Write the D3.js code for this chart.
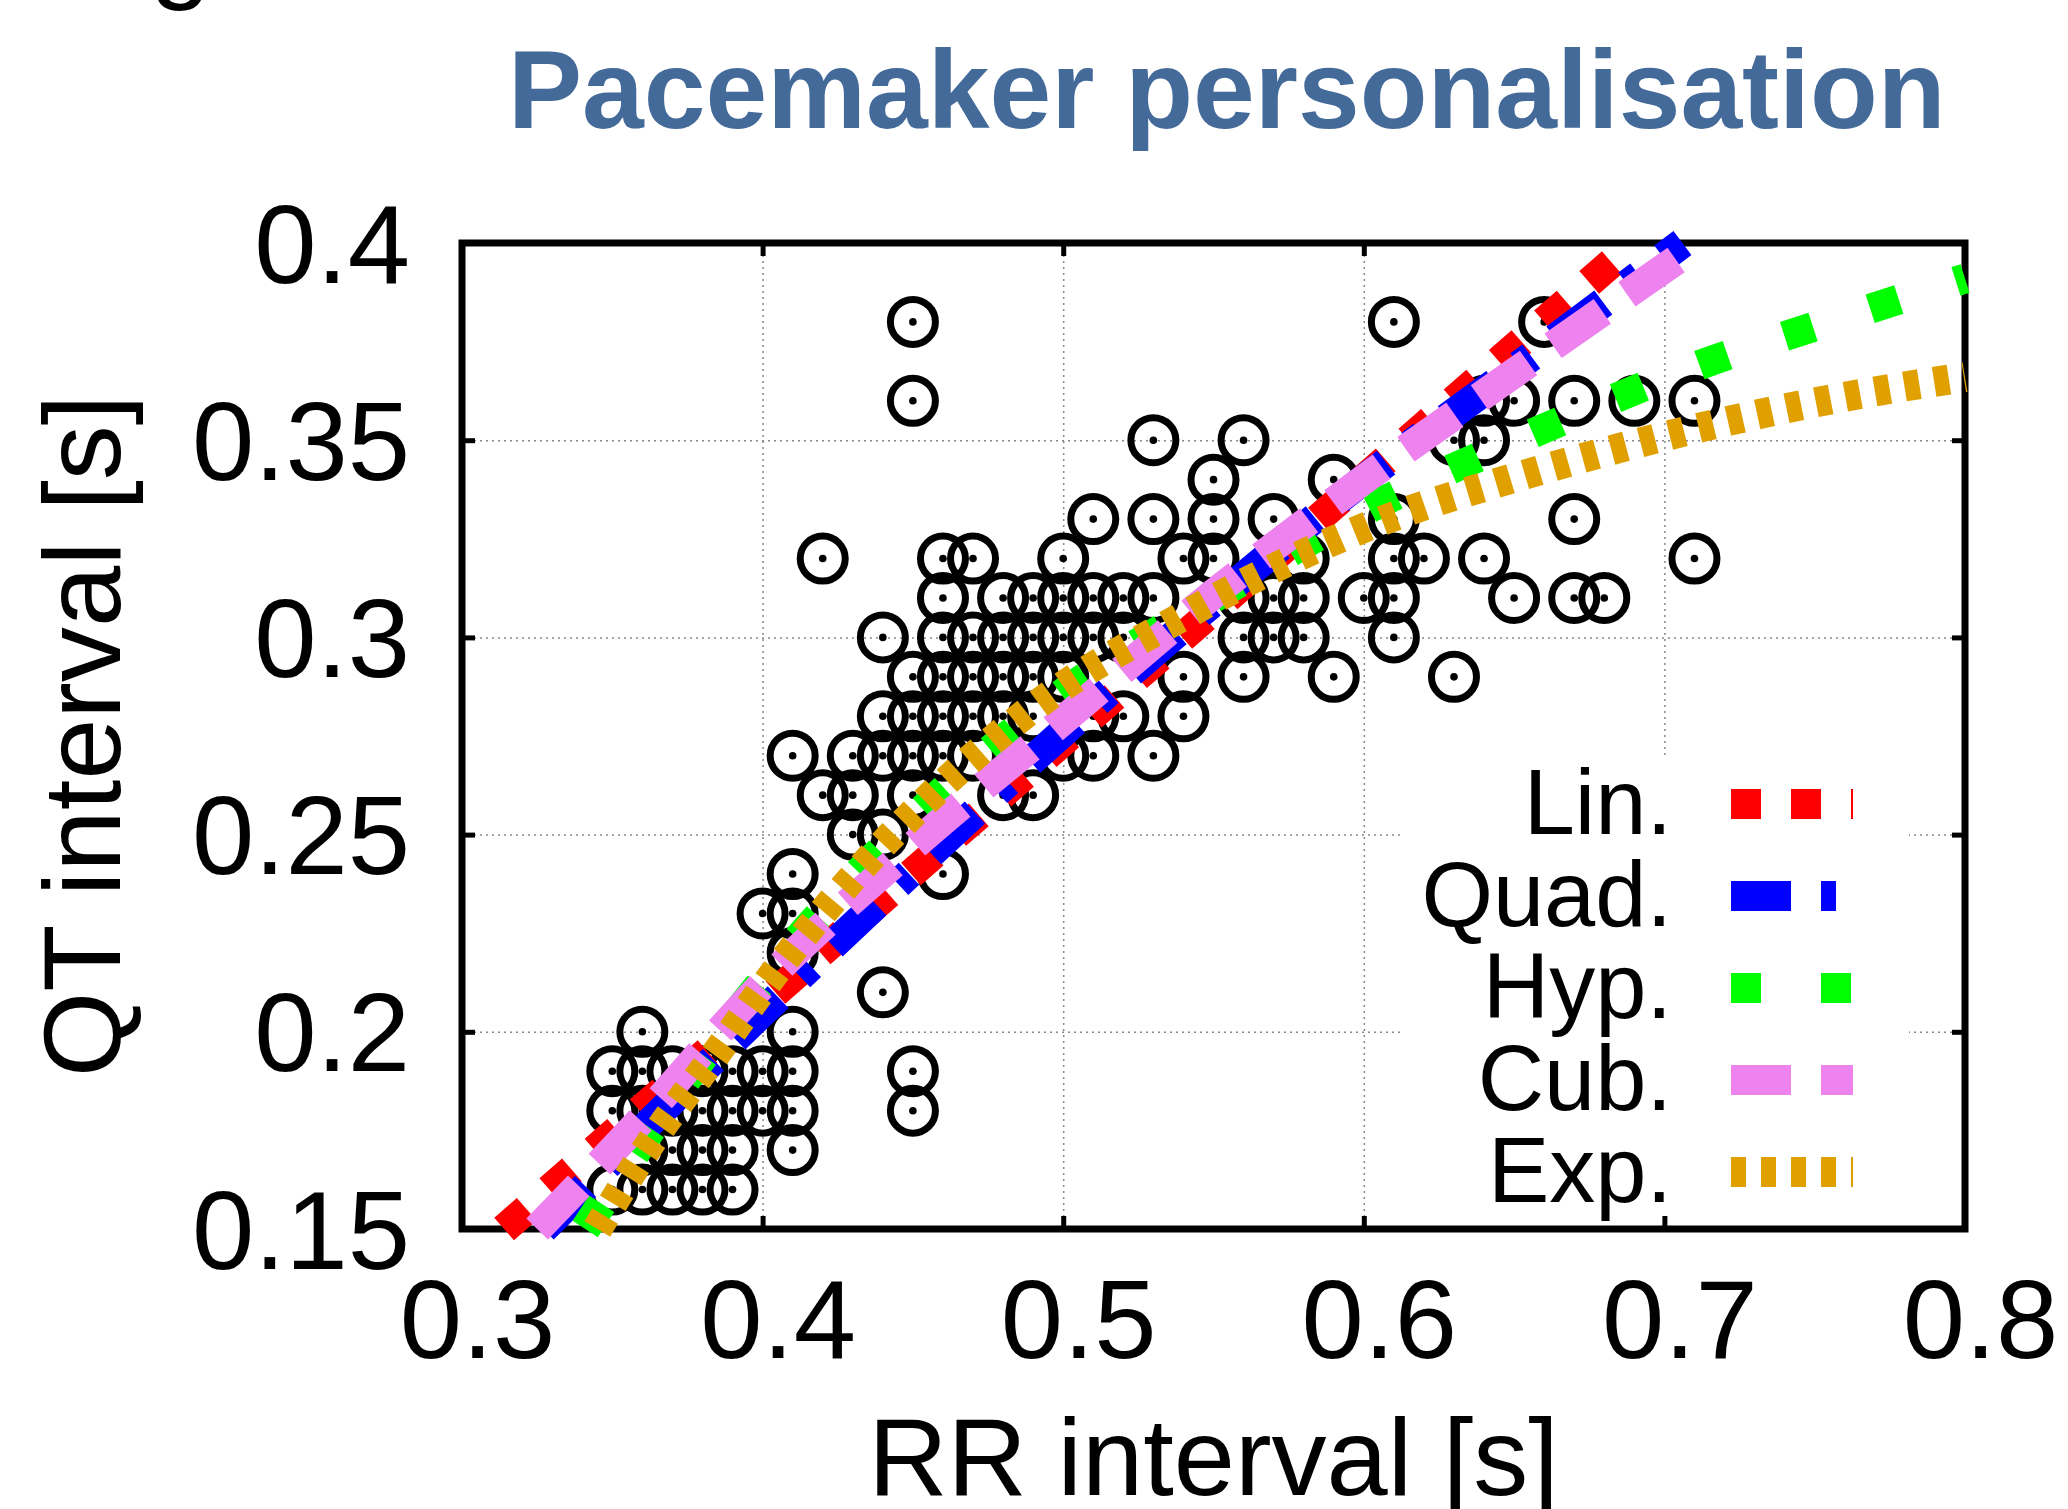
<!DOCTYPE html>
<html>
<head>
<meta charset="utf-8">
<script src="https://cdn.jsdelivr.net/npm/d3@7"></script>
<style>
  body { margin: 0; background: #fff; }
  text { font-family: "Liberation Sans", Arial, Helvetica, sans-serif; }
</style>
</head>
<body>
<script>
// measured points, one row per QT level: [QT, [RR values]]
let scatterRows = [
  [0.16, [0.35, 0.36, 0.37, 0.38, 0.39]],
  [0.17, [0.36, 0.37, 0.38, 0.39, 0.41]],
  [0.18, [0.35, 0.36, 0.37, 0.38, 0.39, 0.40, 0.41, 0.45]],
  [0.19, [0.35, 0.36, 0.37, 0.38, 0.39, 0.40, 0.41, 0.45]],
  [0.20, [0.36, 0.41]],
  [0.21, [0.44]],
  [0.22, [0.41]],
  [0.23, [0.40, 0.41]],
  [0.24, [0.41, 0.46]],
  [0.25, [0.43, 0.44]],
  [0.26, [0.42, 0.43, 0.45, 0.48, 0.49]],
  [0.27, [0.41, 0.43, 0.44, 0.45, 0.46, 0.47, 0.50, 0.51, 0.53]],
  [0.28, [0.44, 0.45, 0.46, 0.47, 0.48, 0.49, 0.51, 0.52, 0.54]],
  [0.29, [0.45, 0.46, 0.47, 0.48, 0.49, 0.50, 0.54, 0.56, 0.59, 0.63]],
  [0.30, [0.44, 0.46, 0.47, 0.48, 0.49, 0.50, 0.51, 0.52, 0.56, 0.57, 0.58, 0.61]],
  [0.31, [0.46, 0.48, 0.49, 0.50, 0.51, 0.52, 0.53, 0.56, 0.57, 0.58, 0.60, 0.61, 0.65, 0.67, 0.68]],
  [0.32, [0.42, 0.46, 0.47, 0.50, 0.54, 0.55, 0.58, 0.61, 0.62, 0.64, 0.71]],
  [0.33, [0.51, 0.53, 0.55, 0.57, 0.61, 0.67]],
  [0.34, [0.55, 0.59]],
  [0.35, [0.53, 0.56, 0.63, 0.64]],
  [0.36, [0.45, 0.64, 0.65, 0.67, 0.69, 0.71]],
  [0.38, [0.45, 0.61, 0.66]]
];

// fitted curves as [RR, QT]
let linFit = [[0.314, 0.15], [0.690, 0.40]];
let quadFit = [[0.327, 0.15], [0.40, 0.205], [0.45, 0.241], [0.50, 0.276], [0.55, 0.309], [0.60, 0.340], [0.65, 0.368], [0.706, 0.40]];
let hypFit = [[0.341, 0.15], [0.37, 0.183], [0.41, 0.222], [0.457, 0.259], [0.502, 0.287], [0.55, 0.310], [0.60, 0.332], [0.654, 0.351], [0.708, 0.368], [0.763, 0.382], [0.80, 0.391]];
let cubFit = [[0.325, 0.15], [0.36, 0.178], [0.40, 0.212], [0.45, 0.247], [0.50, 0.279], [0.55, 0.311], [0.60, 0.340], [0.65, 0.367], [0.712, 0.40]];
let expFit = [[0.345, 0.15], [0.362, 0.171], [0.386, 0.196], [0.405, 0.216], [0.431, 0.240], [0.459, 0.262], [0.495, 0.285], [0.539, 0.305], [0.574, 0.319], [0.611, 0.331], [0.648, 0.340], [0.685, 0.348], [0.722, 0.355], [0.760, 0.361], [0.80, 0.366]];

let fitNames = ['Lin.', 'Quad.', 'Hyp.', 'Cub.', 'Exp.'];
let xTicks = [0.3, 0.4, 0.5, 0.6, 0.7, 0.8];
let xTickLabels = ['0.3', '0.4', '0.5', '0.6', '0.7', '0.8'];
let yTicks = [0.15, 0.2, 0.25, 0.3, 0.35, 0.4];
let yTickLabels = ['0.15', '0.2', '0.25', '0.3', '0.35', '0.4'];

let width = 2068;
let height = 1509;
let fitColors = ['#ff0000', '#0000ff', '#00ff00', '#ee82ee', '#e0a000'];
let fitDashes = ['30,30', '60,30,15,30', '30,60', '60,30', '15,15'];
let fitWidth = 30;

let svg = d3.select('body').append('svg').attr('width', width).attr('height', height);

let x = d3.scaleLinear().domain([0.3, 0.8]).range([462, 1965]);
let y = d3.scaleLinear().domain([0.15, 0.4]).range([1229, 243]);
let plotH = y(0.15) - y(0.4);
let plotW = x(0.8) - x(0.3);

// leftover glyph of the text above, cut by the image edge
svg.append('text').attr('x', 150).attr('y', -12).attr('font-size', 110).text('g');

svg.append('text')
  .attr('x', 508).attr('y', 128)
  .attr('font-size', 111).attr('font-weight', 'bold').attr('fill', '#446a9a')
  .text('Pacemaker personalisation');

// grid
let styleGrid = (g) => {
  g.select('.domain').remove();
  g.selectAll('line').attr('stroke', '#888').attr('stroke-width', 1.5).attr('stroke-dasharray', '2,4');
};
svg.append('g').attr('transform', 'translate(0,' + y(0.15) + ')')
  .call(d3.axisBottom(x).tickValues(xTicks.slice(1, -1)).tickSize(-plotH).tickFormat(''))
  .call(styleGrid);
svg.append('g').attr('transform', 'translate(' + x(0.3) + ',0)')
  .call(d3.axisLeft(y).tickValues(yTicks.slice(1, -1)).tickSize(-plotW).tickFormat(''))
  .call(styleGrid);

// opaque key box
svg.append('rect').attr('x', 1401).attr('y', 757).attr('width', 508).attr('height', y(0.15) - 757).attr('fill', '#fff');

// frame and inward ticks on all four sides
svg.append('rect').attr('x', x(0.3)).attr('y', y(0.4)).attr('width', plotW).attr('height', plotH)
  .attr('fill', 'none').attr('stroke', '#000').attr('stroke-width', 7);

let styleTicks = (g) => {
  g.select('.domain').remove();
  g.selectAll('line').attr('stroke', '#000').attr('stroke-width', 5);
};
svg.append('g').attr('transform', 'translate(0,' + y(0.15) + ')')
  .call(d3.axisBottom(x).tickValues(xTicks).tickSize(-13).tickFormat('')).call(styleTicks);
svg.append('g').attr('transform', 'translate(0,' + y(0.4) + ')')
  .call(d3.axisTop(x).tickValues(xTicks).tickSize(-13).tickFormat('')).call(styleTicks);
svg.append('g').attr('transform', 'translate(' + x(0.3) + ',0)')
  .call(d3.axisLeft(y).tickValues(yTicks).tickSize(-13).tickFormat('')).call(styleTicks);
svg.append('g').attr('transform', 'translate(' + x(0.8) + ',0)')
  .call(d3.axisRight(y).tickValues(yTicks).tickSize(-13).tickFormat('')).call(styleTicks);

// tick labels
let xLab = svg.append('g').attr('transform', 'translate(0,' + y(0.15) + ')')
  .call(d3.axisBottom(x).tickValues(xTicks).tickSize(0).tickFormat((d, i) => xTickLabels[i]));
xLab.select('.domain').remove();
xLab.attr('font-size', 112).attr('font-family', null);
xLab.selectAll('text').attr('y', 129).attr('dy', null).attr('x', 15).attr('fill', '#000');

let yLab = svg.append('g').attr('transform', 'translate(' + x(0.3) + ',0)')
  .call(d3.axisLeft(y).tickValues(yTicks).tickSize(0).tickFormat((d, i) => yTickLabels[i]));
yLab.select('.domain').remove();
yLab.attr('font-size', 112).attr('font-family', null);
yLab.selectAll('text').attr('x', -52).attr('y', 39).attr('dy', null).attr('fill', '#000');

// axis titles
svg.append('text').attr('x', (x(0.3) + x(0.8)) / 2).attr('y', 1495)
  .attr('text-anchor', 'middle').attr('font-size', 110).text('RR interval [s]');
svg.append('text').attr('transform', 'translate(120,' + (y(0.15) + y(0.4)) / 2 + ') rotate(-90)')
  .attr('text-anchor', 'middle').attr('font-size', 110).text('QT interval [s]');

// points
let points = scatterRows.flatMap(([qt, rrs]) => rrs.map((rr) => ({rr: rr, qt: qt})));
let pts = svg.append('g').selectAll('g').data(points).enter().append('g')
  .attr('transform', (d) => 'translate(' + x(d.rr) + ',' + y(d.qt) + ')');
pts.append('circle').attr('r', 22.5).attr('fill', 'none').attr('stroke', '#000').attr('stroke-width', 7);
pts.append('circle').attr('r', 3.8).attr('fill', '#000');

// fits
let lineFunc = d3.line().x((d) => x(d[0])).y((d) => y(d[1])).curve(d3.curveMonotoneX);
let fits = [linFit, quadFit, hypFit, cubFit, expFit];
svg.append('g').selectAll('path').data(fits).enter().append('path')
  .attr('d', lineFunc)
  .attr('fill', 'none')
  .attr('stroke', (d, i) => fitColors[i])
  .attr('stroke-width', fitWidth)
  .attr('stroke-dasharray', (d, i) => fitDashes[i]);

// key
let key = svg.append('g').selectAll('g').data(fitNames).enter().append('g')
  .attr('transform', (d, i) => 'translate(0,' + (834 + i * 92) + ')');
key.append('text').attr('x', 1672).attr('text-anchor', 'end').attr('font-size', 92).text((d) => d);
key.append('line').attr('x1', 1731).attr('x2', 1853).attr('y1', -30).attr('y2', -30)
  .attr('stroke', (d, i) => fitColors[i])
  .attr('stroke-width', fitWidth)
  .attr('stroke-dasharray', (d, i) => fitDashes[i]);
</script>
</body>
</html>
